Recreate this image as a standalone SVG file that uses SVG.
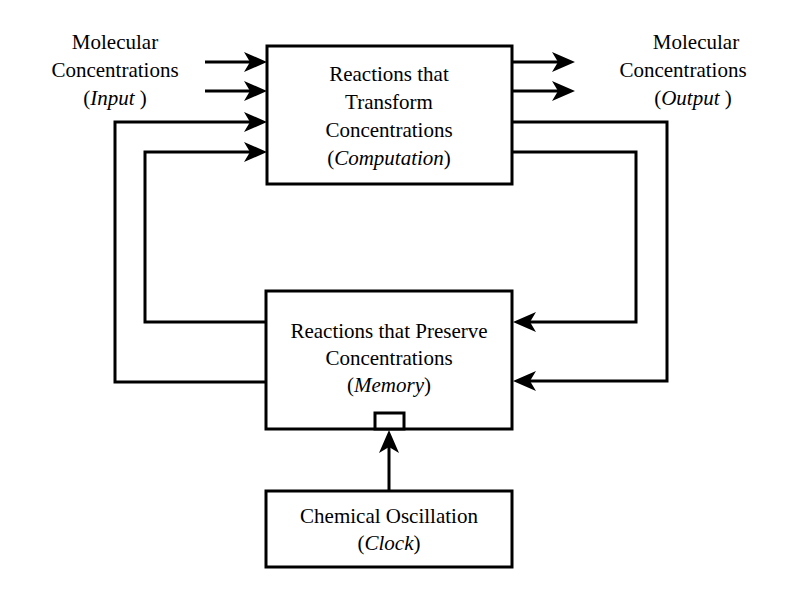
<svg xmlns="http://www.w3.org/2000/svg" width="785" height="599" viewBox="0 0 785 599">
<style>
.b{fill:#fff;stroke:#000;stroke-width:3}
.l{fill:none;stroke:#000;stroke-width:3}
.h{fill:#000;stroke:none}
text{font-family:"Liberation Serif","Times New Roman","DejaVu Serif",serif;font-size:21px;text-anchor:middle;fill:#000}
</style>
<defs><path id="ar" class="h" d="M0,0L-23,-10L-17,0L-23,10z"/></defs>
<rect width="785" height="599" fill="#fff"/>
<g id="computation"><rect class="b" x="267" y="46" width="245" height="138"/>
<text x="389" y="81">Reactions that</text><text x="389" y="109">Transform</text><text x="389" y="137">Concentrations</text><text x="389" y="165">(<tspan font-style="italic">Computation</tspan>)</text></g>
<g id="memory"><rect class="b" x="266" y="291" width="246" height="138"/>
<rect class="b" x="375" y="413" width="29" height="16"/>
<text x="389" y="338">Reactions that Preserve</text><text x="389" y="365">Concentrations</text><text x="389" y="392">(<tspan font-style="italic">Memory</tspan>)</text></g>
<g id="clock"><rect class="b" x="266" y="491" width="246" height="76"/>
<text x="389" y="523">Chemical Oscillation</text><text x="389" y="550">(<tspan font-style="italic">Clock</tspan>)</text></g>
<g id="input"><text x="115" y="49">Molecular</text><text x="115" y="77">Concentrations</text><text x="115" y="105">(<tspan font-style="italic">Input </tspan>)</text></g>
<g id="output"><text x="696" y="49">Molecular</text><text x="683" y="77">Concentrations</text><text x="693" y="105">(<tspan font-style="italic">Output </tspan>)</text></g>
<g id="connectors">
<path class="l" d="M205,62H255"/><use href="#ar" x="267" y="62"/>
<path class="l" d="M205,91H255"/><use href="#ar" x="267" y="91"/>
<path class="l" d="M266,382H115V122H255"/><use href="#ar" x="267" y="122"/>
<path class="l" d="M266,322H145V152H255"/><use href="#ar" x="267" y="152"/>
<path class="l" d="M512,62H562"/><use href="#ar" x="575" y="62"/>
<path class="l" d="M512,91H562"/><use href="#ar" x="575" y="91"/>
<path class="l" d="M512,122H667V381H525"/><use href="#ar" transform="translate(513,381) rotate(180)"/>
<path class="l" d="M512,152H636V322H525"/><use href="#ar" transform="translate(513,322) rotate(180)"/>
<path class="l" d="M389,491V440"/><use href="#ar" transform="translate(389,430) rotate(-90)"/>
</g>
</svg>
